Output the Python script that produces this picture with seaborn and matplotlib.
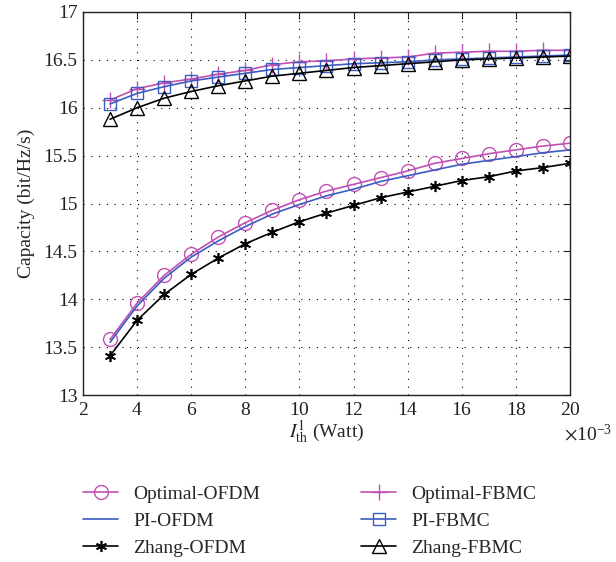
import numpy as np
import pandas as pd
import matplotlib
matplotlib.use("Agg")
import matplotlib.pyplot as plt
import seaborn as sns
from matplotlib.ticker import ScalarFormatter

x_mw = [3, 4, 5, 6, 7, 8, 9, 10, 11, 12, 13, 14, 15, 16, 17, 18, 19, 20]

optimal_ofdm = [13.58, 13.96, 14.25, 14.47, 14.65, 14.80, 14.93, 15.04, 15.13, 15.20, 15.27, 15.34, 15.42, 15.47, 15.52, 15.56, 15.60, 15.63]
pi_ofdm = [13.55, 13.93, 14.22, 14.44, 14.61, 14.76, 14.89, 14.99, 15.08, 15.15, 15.23, 15.29, 15.35, 15.41, 15.45, 15.49, 15.53, 15.56]
zhang_ofdm = [13.41, 13.78, 14.05, 14.26, 14.43, 14.58, 14.70, 14.81, 14.90, 14.98, 15.06, 15.12, 15.18, 15.24, 15.28, 15.34, 15.375, 15.42]
optimal_fbmc = [16.08, 16.20, 16.26, 16.30, 16.35, 16.39, 16.45, 16.48, 16.49, 16.51, 16.52, 16.53, 16.57, 16.58, 16.59, 16.59, 16.60, 16.60]
pi_fbmc = [16.04, 16.15, 16.22, 16.28, 16.32, 16.36, 16.40, 16.42, 16.44, 16.46, 16.47, 16.48, 16.50, 16.51, 16.52, 16.53, 16.54, 16.55]
zhang_fbmc = [15.88, 16.00, 16.10, 16.17, 16.23, 16.28, 16.33, 16.36, 16.39, 16.42, 16.44, 16.46, 16.48, 16.50, 16.51, 16.52, 16.53, 16.54]

series_names = ["Optimal-OFDM", "PI-OFDM", "Zhang-OFDM", "Optimal-FBMC", "PI-FBMC", "Zhang-FBMC"]
series_values = [optimal_ofdm, pi_ofdm, zhang_ofdm, optimal_fbmc, pi_fbmc, zhang_fbmc]

x_ticks = [2, 4, 6, 8, 10, 12, 14, 16, 18, 20]
y_ticks = [13, 13.5, 14, 14.5, 15, 15.5, 16, 16.5, 17]
y_tick_labels = ["13", "13.5", "14", "14.5", "15", "15.5", "16", "16.5", "17"]

sns.set_theme(style="white")
plt.rcParams["font.family"] = ["Liberation Serif", "DejaVu Serif"]
plt.rcParams["mathtext.fontset"] = "stix"

magenta = "#c24fb3"
blue = "#3b5cc0"
black = "#000000"
styles = {
    "Optimal-OFDM": dict(color=magenta, marker="o", ms=10, mfc="none", mew=1.0),
    "PI-OFDM": dict(color=blue, marker=None),
    "Zhang-OFDM": dict(color=black, marker=(6, 2, 0), ms=8, mew=1.2),
    "Optimal-FBMC": dict(color=magenta, marker="+", ms=11, mew=1.0),
    "PI-FBMC": dict(color=blue, marker="s", ms=8, mfc="none", mew=1.0),
    "Zhang-FBMC": dict(color=black, marker="^", ms=10, mfc="none", mew=1.0),
}

FS = 14

fig = plt.figure(figsize=(6.16, 5.62), dpi=100)
ax = fig.add_axes([83 / 616, 1 - 395 / 562, (570 - 83) / 616, (395 - 12) / 562])

x_w = np.array(x_mw) * 1e-3
for name, vals in zip(series_names, series_values):
    df = pd.DataFrame({"x": x_w, "y": vals})
    st = styles[name]
    kw = dict(color=st["color"], lw=1.2, label=name, legend=False)
    if st["marker"] is not None:
        kw.update(marker=st["marker"], markersize=st["ms"], markeredgewidth=st["mew"],
                  markeredgecolor=st["color"])
        if "mfc" in st:
            kw["markerfacecolor"] = st["mfc"]
    sns.lineplot(data=df, x="x", y="y", ax=ax, **kw)

ax.set_xlim(2e-3, 20e-3)
ax.set_ylim(13, 17)
ax.set_xticks(np.array(x_ticks) * 1e-3)
ax.set_yticks(y_ticks)
ax.set_yticklabels(y_tick_labels)
fmt = ScalarFormatter(useMathText=True)
fmt.set_powerlimits((-3, -3))
ax.xaxis.set_major_formatter(fmt)
off = ax.xaxis.get_offset_text()
off.set_fontsize(FS)
off.set_horizontalalignment("left")
off.set_x(0.988)

ax.grid(True, color="black", linestyle=(0, (1, 6)), linewidth=0.8)
for s in ax.spines.values():
    s.set_color("#222222")
    s.set_linewidth(1.0)
ax.tick_params(direction="in", length=5, width=0.8, top=True, right=True,
               labelsize=FS, colors="#222222", labelcolor="#222222")
ax.tick_params(axis="x", pad=5)
ax.tick_params(axis="y", pad=4)
ax.set_xlabel(r"$I_{\mathrm{th}}^{1}$ (Watt)", fontsize=FS, labelpad=0)
ax.set_ylabel("Capacity (bit/Hz/s)", fontsize=FS, labelpad=6)

handles = [h for h in ax.get_lines() if h.get_label() in series_names]
leg = fig.legend(handles, series_names, loc="upper left", bbox_to_anchor=(83 / 616, 1 - 485 / 562),
                 ncol=2, frameon=False, fontsize=FS, columnspacing=5.2,
                 handlelength=1.8, handletextpad=0.77, labelspacing=0.49,
                 borderpad=0, borderaxespad=0)

fig.savefig("out.png", dpi=100)
